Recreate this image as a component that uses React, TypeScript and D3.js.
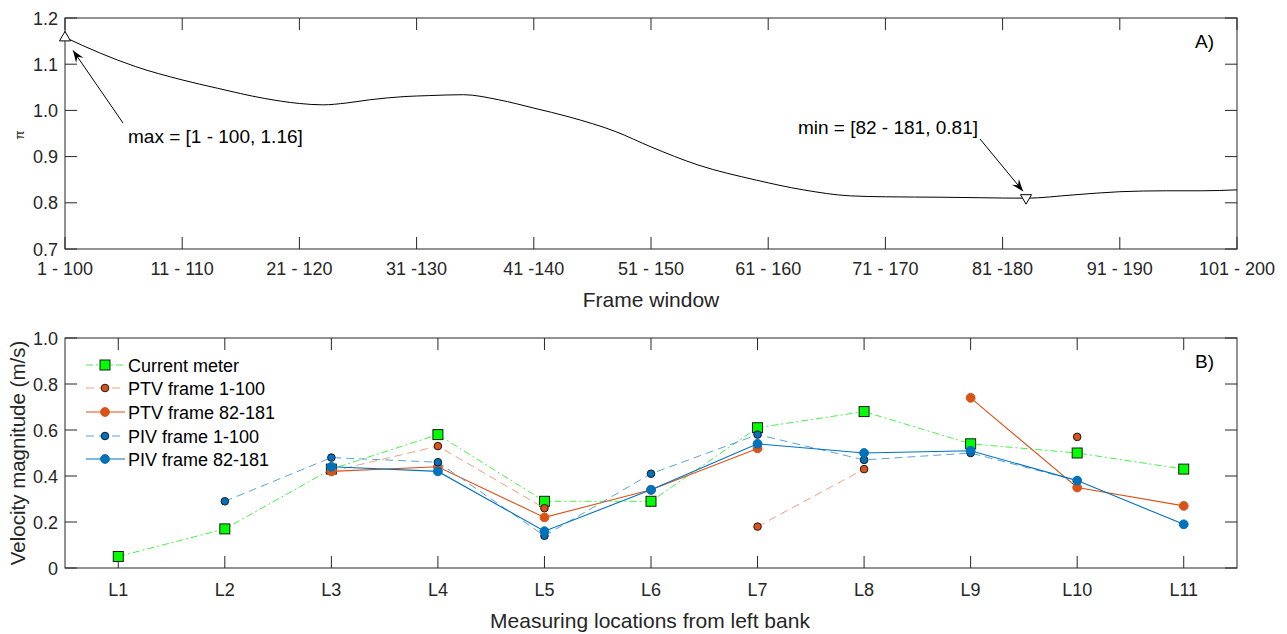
import React, { useEffect, useRef } from "react";
import * as d3 from "d3";

// Panel A: pi vs frame window start
const windowStarts = [1, 4, 7, 11, 14, 18, 21, 23, 25, 27, 30, 32, 35, 38, 41, 44, 48, 51, 55, 60, 64, 68, 71, 76, 79, 83, 87, 91, 95, 98, 101];
const piValues = [1.158, 1.124, 1.095, 1.066, 1.048, 1.026, 1.015, 1.012, 1.016, 1.023, 1.03, 1.032, 1.034, 1.023, 1.005, 0.986, 0.954, 0.921, 0.882, 0.849, 0.828, 0.815, 0.813, 0.812, 0.811, 0.81, 0.817, 0.824, 0.826, 0.826, 0.828];
const frameTickStarts = [1, 11, 21, 31, 41, 51, 61, 71, 81, 91, 101];
const frameTickLabels = ["1 - 100", "11 - 110", "21 - 120", "31 -130", "41 -140", "51 - 150", "61 - 160", "71 - 170", "81 -180", "91 - 190", "101 - 200"];
const piTicks = [0.7, 0.8, 0.9, 1.0, 1.1, 1.2];

// Panel B: velocities at measuring locations (null = no data)
const locations = ["L1", "L2", "L3", "L4", "L5", "L6", "L7", "L8", "L9", "L10", "L11"];
const currentMeter = [0.05, 0.17, 0.43, 0.58, 0.29, 0.29, 0.61, 0.68, 0.54, 0.5, 0.43];
const ptv1 = [null, null, 0.42, 0.53, 0.26, null, 0.18, 0.43, null, 0.57, null];
const ptv82 = [null, null, 0.42, 0.44, 0.22, 0.34, 0.52, null, 0.74, 0.35, 0.27];
const piv1 = [null, 0.29, 0.48, 0.46, 0.14, 0.41, 0.58, 0.47, 0.5, 0.38, null];
const piv82 = [null, null, 0.44, 0.42, 0.16, 0.34, 0.54, 0.5, 0.51, 0.38, 0.19];
const velTicks = [0, 0.2, 0.4, 0.6, 0.8, 1.0];

const FONT = "'Liberation Sans', Arial, sans-serif";
const TXT = "#262626";

type Series = {
  name: string;
  values: (number | null)[];
  line: string;
  dash: string;
  width: number;
  marker: "square" | "circle";
  fill: string;
  edge: string;
  r: number;
};

const series: Series[] = [
  { name: "Current meter", values: currentMeter, line: "#33ee33", dash: "7,3,2,3", width: 0.9, marker: "square", fill: "#00ff00", edge: "#1a1a1a", r: 5 },
  { name: "PTV frame 1-100", values: ptv1, line: "#f0a07c", dash: "8,5", width: 1, marker: "circle", fill: "#d95319", edge: "#1a1a1a", r: 3.8 },
  { name: "PTV frame 82-181", values: ptv82, line: "#d95319", dash: "", width: 1.1, marker: "circle", fill: "#d95319", edge: "#d95319", r: 4.4 },
  { name: "PIV frame 1-100", values: piv1, line: "#5ba3d9", dash: "8,5", width: 1, marker: "circle", fill: "#0072bd", edge: "#1a1a1a", r: 3.8 },
  { name: "PIV frame 82-181", values: piv82, line: "#0072bd", dash: "", width: 1.1, marker: "circle", fill: "#0072bd", edge: "#0072bd", r: 4.4 },
];

const W = 1287;
const H = 634;

const drawBox = (g: any, x0: number, x1: number, y0: number, y1: number) => {
  g.append("rect").attr("x", x0).attr("y", y0).attr("width", x1 - x0).attr("height", y1 - y0)
    .attr("fill", "none").attr("stroke", TXT).attr("stroke-width", 1);
};

const arrow = (g: any, x1: number, y1: number, x2: number, y2: number) => {
  g.append("line").attr("x1", x1).attr("y1", y1).attr("x2", x2).attr("y2", y2)
    .attr("stroke", "#000").attr("stroke-width", 1);
  const ang = Math.atan2(y2 - y1, x2 - x1);
  const len = 12, half = 4.5;
  const bx = x2 - len * Math.cos(ang), by = y2 - len * Math.sin(ang);
  const px = -Math.sin(ang) * half, py = Math.cos(ang) * half;
  const mx = x2 - len * 0.65 * Math.cos(ang), my = y2 - len * 0.65 * Math.sin(ang);
  g.append("path")
    .attr("d", `M${x2},${y2}L${bx + px},${by + py}L${mx},${my}L${bx - px},${by - py}Z`)
    .attr("fill", "#000");
};

const App = () => {
  const ref = useRef<SVGSVGElement>(null);

  useEffect(() => {
    const svg = d3.select(ref.current);
    svg.selectAll("*").remove();

    const left = 65, right = 1237;
    const tickFs = 18, annFs = 19, labelFs = 21;

    // ---------- Panel A ----------
    const aTop = 18, aBottom = 249;
    const xA = d3.scaleLinear().domain([1, 101]).range([left, right]);
    const yA = d3.scaleLinear().domain([0.7, 1.2]).range([aBottom, aTop]);
    const gA = svg.append("g");

    const tickLen = 12;
    frameTickStarts.forEach((t, i) => {
      const x = xA(t);
      gA.append("line").attr("x1", x).attr("x2", x).attr("y1", aBottom).attr("y2", aBottom - tickLen).attr("stroke", TXT);
      gA.append("line").attr("x1", x).attr("x2", x).attr("y1", aTop).attr("y2", aTop + tickLen).attr("stroke", TXT);
      gA.append("text").attr("x", x).attr("y", aBottom + 26).attr("text-anchor", "middle")
        .attr("font-size", tickFs).attr("font-family", FONT).attr("fill", TXT).text(frameTickLabels[i]);
    });
    piTicks.forEach((t) => {
      const y = yA(t);
      gA.append("line").attr("x1", left).attr("x2", left + tickLen).attr("y1", y).attr("y2", y).attr("stroke", TXT);
      gA.append("line").attr("x1", right).attr("x2", right - tickLen).attr("y1", y).attr("y2", y).attr("stroke", TXT);
      gA.append("text").attr("x", left - 7).attr("y", y + 6.5).attr("text-anchor", "end")
        .attr("font-size", tickFs).attr("font-family", FONT).attr("fill", TXT).text(t.toFixed(1));
    });
    drawBox(gA, left, right, aTop, aBottom);

    const piLine = d3.line<number>()
      .x((_, i) => xA(windowStarts[i]))
      .y((d) => yA(d))
      .curve(d3.curveMonotoneX);
    gA.append("path").attr("d", piLine(piValues)).attr("fill", "none").attr("stroke", "#000").attr("stroke-width", 1);

    // max / min markers
    const maxI = d3.maxIndex(piValues);
    const minI = d3.minIndex(piValues);
    const mx = xA(windowStarts[maxI]), my = yA(piValues[maxI]);
    const nx = xA(windowStarts[minI]), ny = yA(piValues[minI]);
    gA.append("path").attr("d", `M${mx},${my - 6}L${mx + 5.5},${my + 3.5}L${mx - 5.5},${my + 3.5}Z`)
      .attr("fill", "#fff").attr("stroke", "#000").attr("stroke-width", 1);
    gA.append("path").attr("d", `M${nx},${ny + 6}L${nx + 5.5},${ny - 3.5}L${nx - 5.5},${ny - 3.5}Z`)
      .attr("fill", "#fff").attr("stroke", "#000").attr("stroke-width", 1);

    arrow(gA, 123, 123, mx + 8, my + 13);
    arrow(gA, 980, 139, nx - 3, ny - 7);
    gA.append("text").attr("x", 128).attr("y", 143).attr("font-size", annFs).attr("font-family", FONT)
      .attr("fill", "#000").text("max = [1 - 100, 1.16]");
    gA.append("text").attr("x", 978).attr("y", 134).attr("text-anchor", "end").attr("font-size", annFs)
      .attr("font-family", FONT).attr("fill", "#000").text("min = [82 - 181, 0.81]");
    gA.append("text").attr("x", 1195).attr("y", 48).attr("font-size", annFs).attr("font-family", FONT)
      .attr("fill", "#000").text("A)");

    gA.append("text").attr("transform", `translate(24,135) rotate(-90)`).attr("text-anchor", "middle")
      .attr("font-size", 13).attr("font-family", FONT).attr("fill", TXT).text("π");
    gA.append("text").attr("x", (left + right) / 2).attr("y", 307).attr("text-anchor", "middle")
      .attr("font-size", labelFs).attr("font-family", FONT).attr("fill", TXT).text("Frame window");

    // ---------- Panel B ----------
    const bTop = 338, bBottom = 568;
    const xB = d3.scaleLinear().domain([0.5, locations.length + 0.5]).range([left, right]);
    const yB = d3.scaleLinear().domain([0, 1]).range([bBottom, bTop]);
    const gB = svg.append("g");

    locations.forEach((l, i) => {
      const x = xB(i + 1);
      gB.append("line").attr("x1", x).attr("x2", x).attr("y1", bBottom).attr("y2", bBottom - tickLen).attr("stroke", TXT);
      gB.append("line").attr("x1", x).attr("x2", x).attr("y1", bTop).attr("y2", bTop + tickLen).attr("stroke", TXT);
      gB.append("text").attr("x", x).attr("y", bBottom + 28).attr("text-anchor", "middle")
        .attr("font-size", tickFs).attr("font-family", FONT).attr("fill", TXT).text(l);
    });
    velTicks.forEach((t) => {
      const y = yB(t);
      gB.append("line").attr("x1", left).attr("x2", left + tickLen).attr("y1", y).attr("y2", y).attr("stroke", TXT);
      gB.append("line").attr("x1", right).attr("x2", right - tickLen).attr("y1", y).attr("y2", y).attr("stroke", TXT);
      gB.append("text").attr("x", left - 7).attr("y", y + 6.5).attr("text-anchor", "end")
        .attr("font-size", tickFs).attr("font-family", FONT).attr("fill", TXT).text(t === 0 ? "0" : t.toFixed(1));
    });
    drawBox(gB, left, right, bTop, bBottom);

    const drawMarker = (g: any, s: Series, x: number, y: number) => {
      if (s.marker === "square") {
        g.append("rect").attr("x", x - s.r).attr("y", y - s.r).attr("width", s.r * 2).attr("height", s.r * 2)
          .attr("fill", s.fill).attr("stroke", s.edge).attr("stroke-width", 1);
      } else {
        g.append("circle").attr("cx", x).attr("cy", y).attr("r", s.r)
          .attr("fill", s.fill).attr("stroke", s.edge).attr("stroke-width", 1);
      }
    };

    series.forEach((s) => {
      const line = d3.line<number | null>()
        .defined((d) => d !== null)
        .x((_, i) => xB(i + 1))
        .y((d) => yB(d as number));
      gB.append("path").attr("d", line(s.values)).attr("fill", "none").attr("stroke", s.line)
        .attr("stroke-width", s.width).attr("stroke-dasharray", s.dash);
      s.values.forEach((v, i) => {
        if (v !== null) drawMarker(gB, s, xB(i + 1), yB(v));
      });
    });

    // legend
    const legY = [365, 388, 412, 436, 459];
    series.forEach((s, i) => {
      const y = legY[i];
      gB.append("line").attr("x1", 86).attr("x2", 125).attr("y1", y).attr("y2", y).attr("stroke", s.line)
        .attr("stroke-width", s.width).attr("stroke-dasharray", s.dash);
      drawMarker(gB, s, 105, y);
      gB.append("text").attr("x", 128).attr("y", y + 6.5).attr("font-size", 18).attr("font-family", FONT)
        .attr("fill", "#000").text(s.name);
    });

    gB.append("text").attr("x", 1195).attr("y", 368).attr("font-size", annFs).attr("font-family", FONT)
      .attr("fill", "#000").text("B)");
    gB.append("text").attr("transform", `translate(25,453) rotate(-90)`).attr("text-anchor", "middle")
      .attr("font-size", 20.5).attr("font-family", FONT).attr("fill", TXT).text("Velocity magnitude (m/s)");
    gB.append("text").attr("x", 650).attr("y", 628).attr("text-anchor", "middle")
      .attr("font-size", labelFs).attr("font-family", FONT).attr("fill", TXT).text("Measuring locations from left bank");
  }, []);

  return (
    <svg ref={ref} width={W} height={H} style={{ position: "absolute", left: 0, top: 0, background: "#fff" }} />
  );
};

export default App;
